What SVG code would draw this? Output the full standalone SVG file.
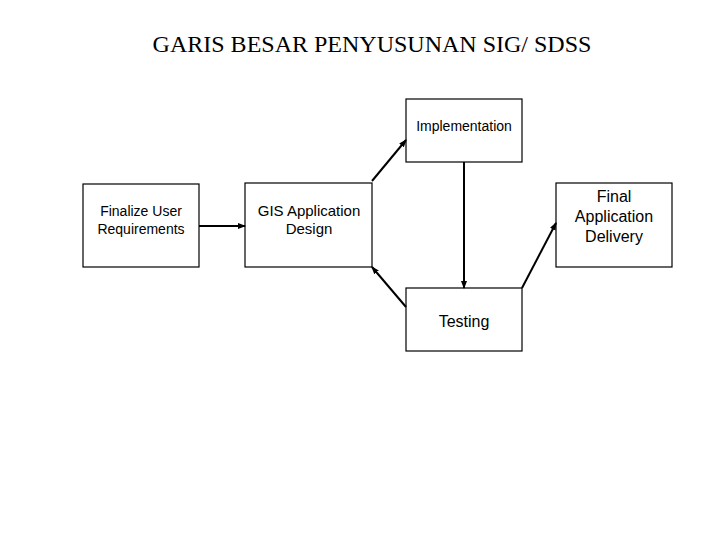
<svg xmlns="http://www.w3.org/2000/svg" width="720" height="540" viewBox="0 0 720 540">
<style>
.box{fill:#fff;stroke:#000;stroke-width:1.2}
.t{font-family:"Liberation Sans",Arial,sans-serif;fill:#000;text-anchor:middle}
.c{stroke:#000;stroke-width:2;fill:none;marker-end:url(#ah)}
</style>
<defs><marker id="ah" markerWidth="8" markerHeight="8" refX="7" refY="4" orient="auto" markerUnits="userSpaceOnUse"><path d="M0,1 L8,4 L0,7 Z" fill="#000"/></marker></defs>
<rect width="720" height="540" fill="#fff"/>
<text x="372" y="52" font-family="'Liberation Serif','Times New Roman',serif" font-size="24" text-anchor="middle">GARIS BESAR PENYUSUNAN SIG/ SDSS</text>
<g id="finalize"><rect class="box" x="83" y="184" width="116" height="83"/><text class="t" font-size="14"><tspan x="141" y="216">Finalize User</tspan><tspan x="141" y="234">Requirements</tspan></text></g>
<g id="gis"><rect class="box" x="245" y="183" width="127" height="84"/><text class="t" font-size="15"><tspan x="309" y="216">GIS Application</tspan><tspan x="309" y="234">Design</tspan></text></g>
<g id="impl"><rect class="box" x="406" y="99" width="116" height="63"/><text class="t" font-size="14" x="464" y="131">Implementation</text></g>
<g id="testing"><rect class="box" x="406" y="288" width="116" height="63"/><text class="t" font-size="16" x="464" y="327">Testing</text></g>
<g id="final"><rect class="box" x="556" y="183" width="116" height="84"/><text class="t" font-size="16"><tspan x="614" y="202">Final</tspan><tspan x="614" y="222">Application</tspan><tspan x="614" y="242">Delivery</tspan></text></g>
<g id="connectors">
<line class="c" x1="199" y1="226" x2="245" y2="226"/>
<line class="c" x1="372" y1="181" x2="406" y2="140"/>
<line class="c" x1="464" y1="162" x2="464" y2="288"/>
<line class="c" x1="406" y1="307" x2="372" y2="267"/>
<line class="c" x1="522" y1="288" x2="556" y2="223"/>
</g>
</svg>
